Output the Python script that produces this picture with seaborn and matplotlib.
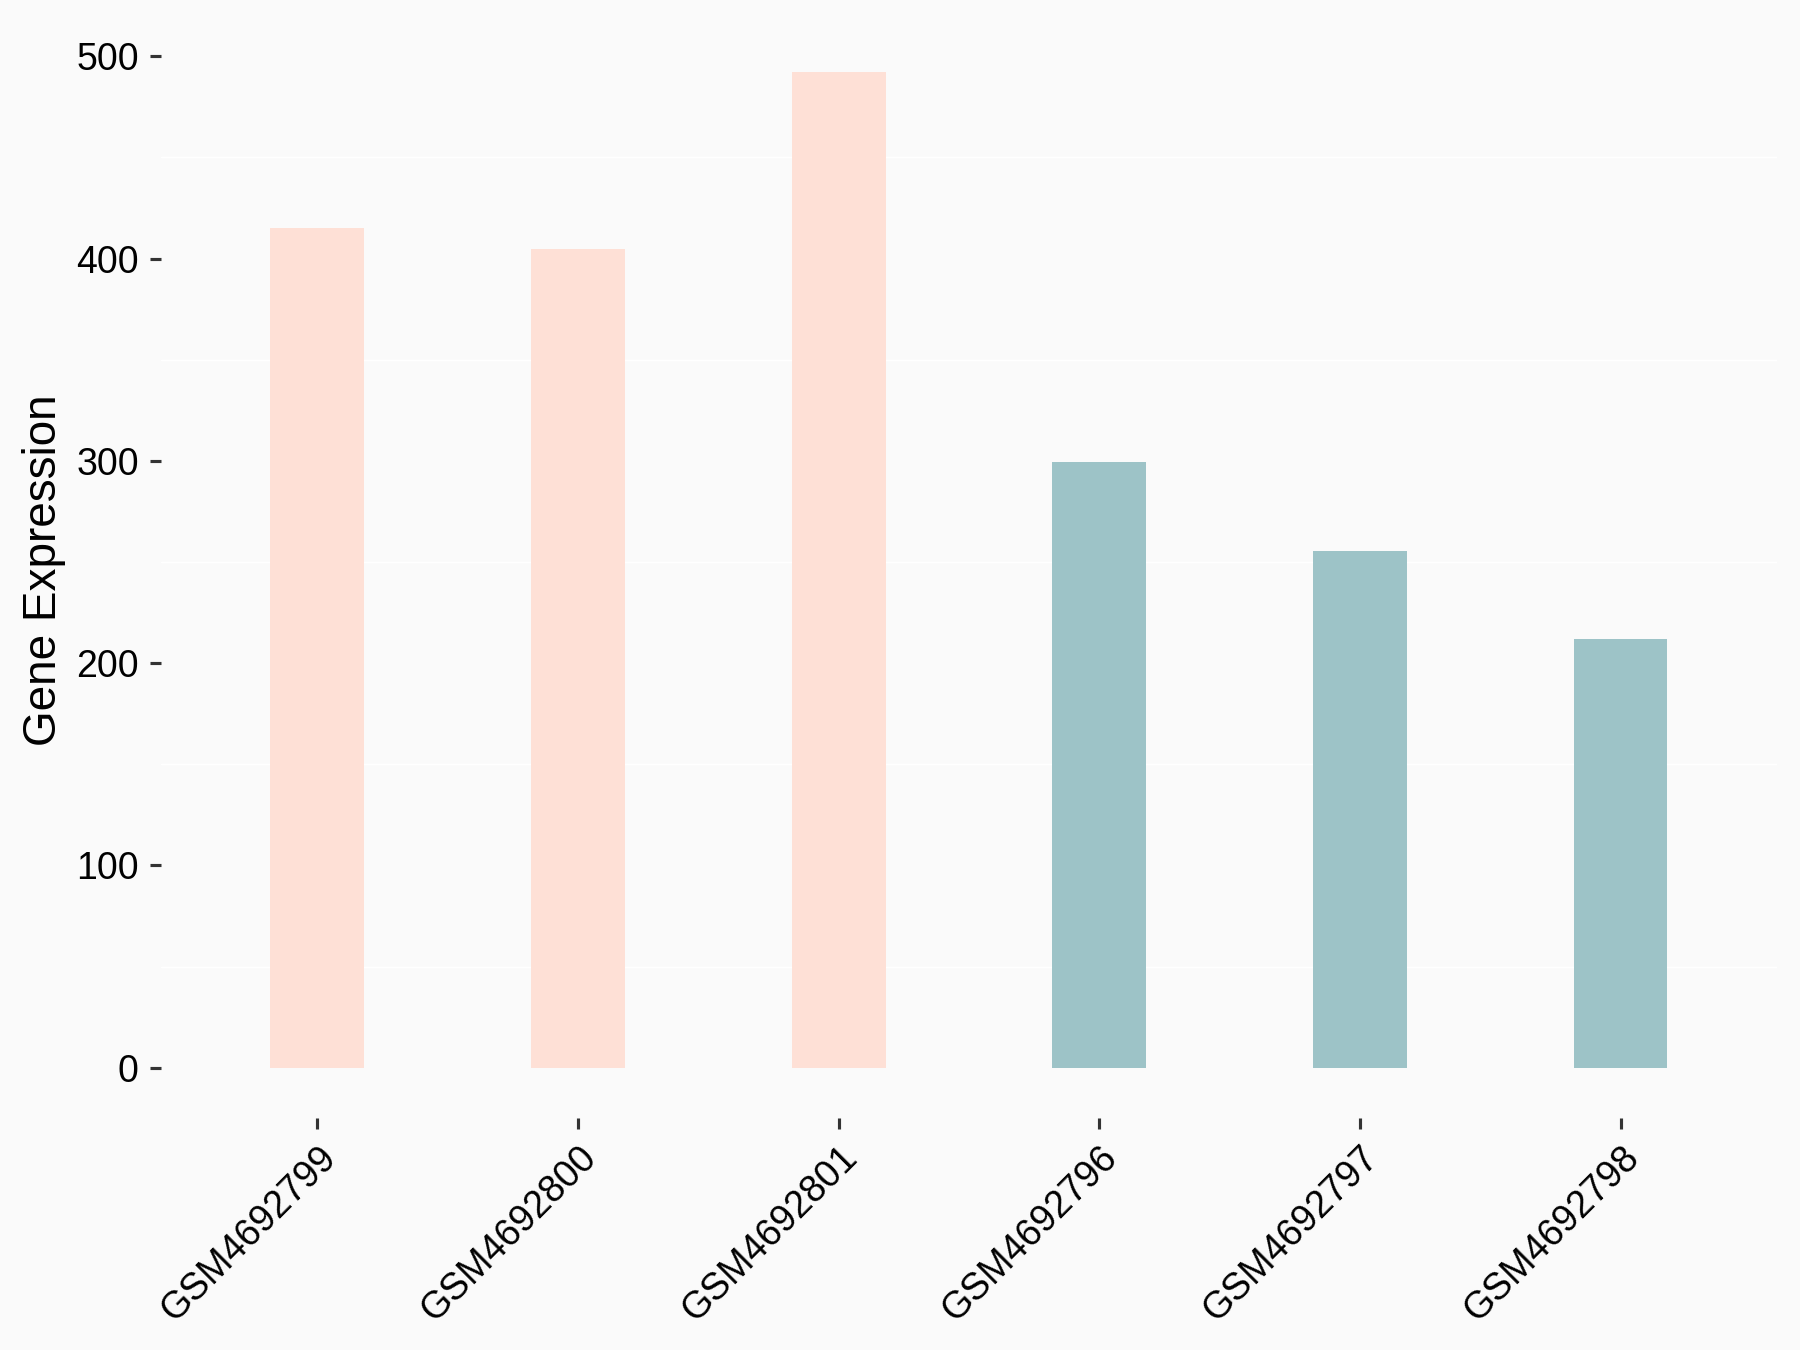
import pandas as pd
import matplotlib
matplotlib.use("Agg")
import matplotlib.pyplot as plt
import seaborn as sns

# Values
samples = ["GSM4692799", "GSM4692800", "GSM4692801",
           "GSM4692796", "GSM4692797", "GSM4692798"]
expression = [415.0, 404.6, 492.1, 299.4, 255.4, 211.9]
groups = ["A", "A", "A", "B", "B", "B"]
group_colors = {"A": "#FEE0D6", "B": "#9DC3C7"}
y_ticks = [0, 100, 200, 300, 400, 500]
y_minor = [50, 150, 250, 350, 450]

df = pd.DataFrame({"sample": samples, "expr": expression, "group": groups})

sns.set_style("white")
plt.rcParams["font.family"] = ["Liberation Sans", "DejaVu Sans"]

fig = plt.figure(figsize=(6, 4.5), dpi=300, facecolor="#FAFAFA")
ax = fig.add_axes([0.0894, 0.1722, 0.8978, 0.8111])
ax.set_facecolor("#FAFAFA")

sns.barplot(data=df, x="sample", y="expr", hue="group", palette=group_colors,
            dodge=False, width=0.36, legend=False, ax=ax, saturation=1,
            linewidth=0)

# ggplot-like expansion
ymax = max(expression)
ax.set_ylim(-0.05 * ymax, 1.05 * ymax)
ax.set_xlim(-0.6, len(samples) - 0.4)

ax.set_yticks(y_ticks)
ax.set_yticks(y_minor, minor=True)
ax.grid(False)
ax.grid(True, which="minor", axis="y", color="white", linewidth=0.35)
ax.set_axisbelow(True)
for s in ax.spines.values():
    s.set_visible(False)

ax.tick_params(axis="both", which="major", direction="out", length=2.7,
               width=0.75, color="#333333", labelsize=9, labelcolor="black",
               pad=2.6)
ax.tick_params(axis="y", which="minor", length=0)
ax.tick_params(bottom=True, left=True)

plt.setp(ax.get_xticklabels(), rotation=45, ha="right", va="top",
         rotation_mode="anchor")

ax.set_xlabel("")
ax.set_ylabel("Gene Expression", fontsize=11, color="black", labelpad=2.5)

fig.savefig("out.png", dpi=300, facecolor="#FAFAFA")
